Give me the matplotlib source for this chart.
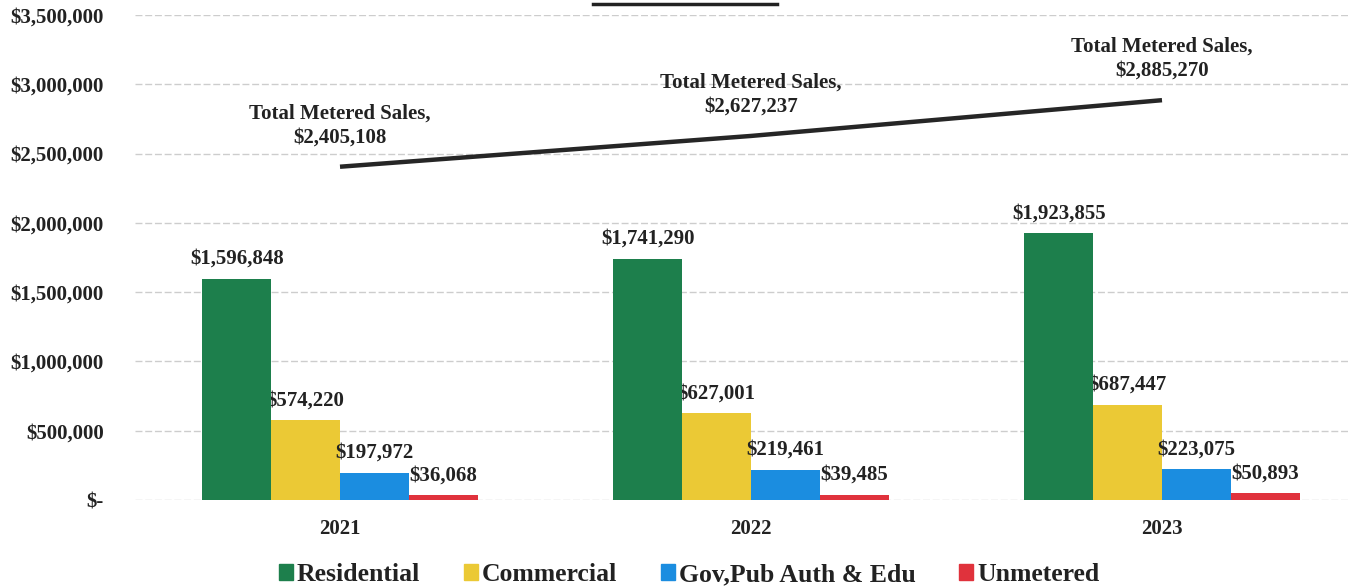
import numpy as np
import matplotlib
matplotlib.use("Agg")
import matplotlib.pyplot as plt
from matplotlib.lines import Line2D

plt.rcParams['font.family'] = ['Liberation Serif', 'DejaVu Serif']
plt.rcParams['font.weight'] = 'bold'

years = ['2021', '2022', '2023']
residential = [1596848, 1741290, 1923855]
commercial = [574220, 627001, 687447]
gov_pub_edu = [197972, 219461, 223075]
unmetered = [36068, 39485, 50893]
total_metered = [2405108, 2627237, 2885270]

series = [
    ('Residential', residential, '#1d7f4c'),
    ('Commercial', commercial, '#ebc935'),
    ('Gov,Pub Auth & Edu', gov_pub_edu, '#1b8de0'),
    ('Unmetered', unmetered, '#e0323c'),
]

txt = '#222222'

fig = plt.figure(figsize=(13.49, 5.86), dpi=100)
ax = fig.add_axes([134.5 / 1349, 86 / 586, 1233 / 1349, 485 / 586])

x = np.arange(len(years))
w = 0.1675
offsets = [-1.5, -0.5, 0.5, 1.5]

for (name, vals, col), off in zip(series, offsets):
    xs = x + off * w
    ax.bar(xs, vals, width=w, color=col, label=name, zorder=3)
    # commercial labels sit partly behind the residential bars
    lz = 2 if name == 'Commercial' else 4
    for xi, v in zip(xs, vals):
        ax.annotate('${:,}'.format(v), (xi, v), xytext=(0, 7),
                    textcoords='offset points', ha='center', va='bottom',
                    fontsize=15, fontweight='bold', color=txt, zorder=lz)

# total metered sales trend
ax.plot(x, total_metered, color='#262626', lw=3.2, solid_capstyle='butt', zorder=5)
for xi, v in zip(x, total_metered):
    ax.annotate('Total Metered Sales,\n${:,}'.format(v), (xi, v), xytext=(0, 14),
                textcoords='offset points', ha='center', va='bottom',
                fontsize=15, fontweight='bold', color=txt, linespacing=1.25, zorder=6)

ax.set_xlim(-0.5, 2.5)
ax.set_ylim(0, 3500000)
ax.set_yticks(np.arange(0, 3500001, 500000))
ax.set_yticklabels(['$-'] + ['${:,}'.format(v) for v in range(500000, 3500001, 500000)])
ax.set_xticks(x)
ax.set_xticklabels(years)
ax.tick_params(axis='y', length=0, pad=22, labelsize=15, labelcolor=txt)
ax.tick_params(axis='x', length=0, pad=14, labelsize=15, labelcolor=txt)
for lbl in ax.get_xticklabels() + ax.get_yticklabels():
    lbl.set_fontweight('bold')

ax.grid(axis='y', color='#cdcdcd', lw=1.0, ls=(0, (5, 2)), zorder=0)
for s in ax.spines.values():
    s.set_visible(False)

# underline of the heading running off the top edge
fig.add_artist(Line2D([593 / 1349, 777 / 1349], [1 - 4 / 586, 1 - 4 / 586],
                      color=txt, lw=2.5, transform=fig.transFigure))

handles = [plt.Rectangle((0, 0), 1, 1, color=c) for _, _, c in series]
fig.legend(handles, [n for n, _, _ in series], loc='lower center',
           bbox_to_anchor=(689 / 1349, -0.04), ncol=4, frameon=False,
           fontsize=18.5, handlelength=0.55, handleheight=0.55,
           handletextpad=0.15, columnspacing=1.7, labelcolor=txt)

fig.savefig('out.png', dpi=100)
